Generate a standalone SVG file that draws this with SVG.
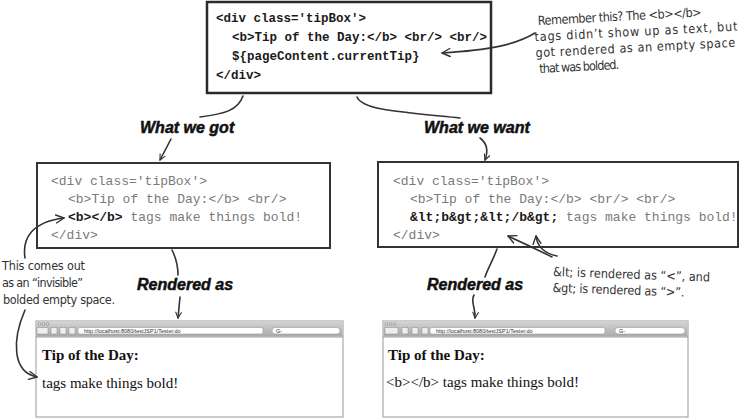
<svg xmlns="http://www.w3.org/2000/svg" width="741" height="419" viewBox="0 0 741 419">
<defs>
<style>
.box{fill:#fff;stroke:#333;stroke-width:2}
.topbox{fill:#fff;stroke:#2a2a2a;stroke-width:2.5}
.codeb{font-family:"Liberation Mono","Courier New",monospace;font-weight:bold;font-size:12.5px;fill:#1a1a1a}
.code{font-family:"Liberation Mono","Courier New",monospace;font-size:13px;fill:#7a7a7a}
.cb{font-weight:bold;fill:#1a1a1a}
.head{font-family:"Liberation Sans",Arial,sans-serif;font-weight:bold;font-style:italic;font-size:16px;fill:#111;stroke:#111;stroke-width:0.5}
.hand{font-family:"Liberation Sans Narrow","DejaVu Sans Condensed","Open Sans",sans-serif;font-size:12.5px;fill:#333}
.conn{fill:none;stroke:#333;stroke-width:1.6;stroke-linecap:round}
.serif{font-family:"Liberation Serif","Times New Roman",serif;font-size:15px;fill:#111}
.frame{fill:#fff;stroke:#999;stroke-width:1}
.bar{fill:url(#barg)}
.btn{fill:#eee;stroke:#888;stroke-width:0.5}
.field{fill:#fff;stroke:#999;stroke-width:0.6}
.url{font-family:"Liberation Sans Narrow","Liberation Sans",sans-serif;font-size:5.5px;fill:#333}
.dot{fill:#ddd;stroke:#777;stroke-width:0.5}
</style>
<linearGradient id="barg" x1="0" y1="0" x2="0" y2="1">
<stop offset="0" stop-color="#d4d4d4"/>
<stop offset="1" stop-color="#a9a9a9"/>
</linearGradient>
<marker id="ah" viewBox="0 0 10 10" refX="9" refY="5" markerWidth="7" markerHeight="7" orient="auto" markerUnits="userSpaceOnUse">
<path d="M1,1 L9,5 L1,9" fill="none" stroke="#333" stroke-width="1.6" stroke-linecap="round" stroke-linejoin="round"/>
</marker>
<marker id="ah2" viewBox="0 0 10 10" refX="9" refY="5" markerWidth="10" markerHeight="10" orient="auto" markerUnits="userSpaceOnUse">
<path d="M1,1 L9,5 L1,9" fill="none" stroke="#333" stroke-width="1.4" stroke-linecap="round" stroke-linejoin="round"/>
</marker>
</defs>
<rect width="741" height="419" fill="#fff"/>

<g id="top-code">
<rect class="topbox" x="207" y="2" width="284" height="91"/>
<text class="codeb" x="216" y="22">&lt;div class='tipBox'&gt;</text>
<text class="codeb" x="232" y="41">&lt;b&gt;Tip of the Day:&lt;/b&gt; &lt;br/&gt; &lt;br/&gt;</text>
<text class="codeb" x="232" y="60">${pageContent.currentTip}</text>
<text class="codeb" x="216" y="79">&lt;/div&gt;</text>
</g>

<g id="note-remember" transform="rotate(-3 538 25)">
<text class="hand" x="538" y="25" textLength="164">Remember this? The &lt;b&gt;&lt;/b&gt;</text>
<text class="hand" x="534" y="41" textLength="203">tags didn’t show up as text, but</text>
<text class="hand" x="534" y="57" textLength="200">got rendered as an empty space</text>
<text class="hand" x="537" y="73" textLength="80">that was bolded.</text>
</g>

<g id="label-got"><text class="head" x="140" y="133">What we got</text></g>
<g id="label-want"><text class="head" x="424" y="133">What we want</text></g>

<g id="got-code">
<rect class="box" x="37" y="163" width="293" height="85"/>
<text class="code" x="51" y="185">&lt;div class='tipBox'&gt;</text>
<text class="code" x="68" y="203">&lt;b&gt;Tip of the Day:&lt;/b&gt; &lt;br/&gt;</text>
<text class="code" x="68" y="221"><tspan class="cb">&lt;b&gt;&lt;/b&gt;</tspan> tags make things bold!</text>
<text class="code" x="51" y="239">&lt;/div&gt;</text>
</g>

<g id="want-code">
<rect class="box" x="378" y="162" width="360" height="85"/>
<text class="code" x="393" y="185">&lt;div class='tipBox'&gt;</text>
<text class="code" x="410" y="203">&lt;b&gt;Tip of the Day:&lt;/b&gt; &lt;br/&gt; &lt;br/&gt;</text>
<text class="code" x="410" y="221"><tspan class="cb">&amp;lt;b&amp;gt;&amp;lt;/b&amp;gt;</tspan> tags make things bold!</text>
<text class="code" x="393" y="239">&lt;/div&gt;</text>
</g>

<g id="note-invisible">
<text class="hand" x="2" y="270" textLength="83">This comes out</text>
<text class="hand" x="2" y="287" textLength="81">as an “invisible”</text>
<text class="hand" x="3" y="304" textLength="112">bolded empty space.</text>
</g>

<g id="note-entities" transform="rotate(2 553 276)">
<text class="hand" x="553" y="276" textLength="157">&amp;lt; is rendered as “&lt;”, and</text>
<text class="hand" x="553" y="292" textLength="132">&amp;gt; is rendered as “&gt;”.</text>
</g>

<g id="label-rendered-left"><text class="head" x="137" y="290">Rendered as</text></g>
<g id="label-rendered-right"><text class="head" x="427" y="290">Rendered as</text></g>

<g id="browser-got">
<rect class="frame" x="36" y="321" width="307" height="96"/>
<rect class="bar" x="36.5" y="321.5" width="306" height="15"/>
<circle class="dot" cx="39.5" cy="324" r="1.4"/><circle class="dot" cx="43.5" cy="324" r="1.4"/><circle class="dot" cx="47.5" cy="324" r="1.4"/>
<rect class="btn" x="37" y="327.5" width="11" height="6.5"/>
<rect class="btn" x="51" y="327.5" width="6" height="6.5"/>
<rect class="btn" x="60" y="327.5" width="6" height="6.5"/>
<rect class="btn" x="69" y="327.5" width="6" height="6.5"/>
<rect class="field" x="78" y="327.5" width="185" height="6.5" rx="2"/>
<text class="url" x="84" y="333">http://localhost:8080/testJSP1/Tester.do</text>
<rect class="field" x="272" y="327.5" width="68" height="6.5" rx="3.2"/>
<text class="url" x="276" y="333">G-</text>
<line x1="36" y1="337" x2="343" y2="337" stroke="#888" stroke-width="0.8"/>
<text class="serif" x="42" y="360" font-weight="bold">Tip of the Day:</text>
<text class="serif" x="42" y="388">tags make things bold!</text>
</g>

<g id="browser-want">
<rect class="frame" x="383" y="321" width="305" height="96"/>
<rect class="bar" x="383.5" y="321.5" width="304" height="15"/>
<circle class="dot" cx="386.5" cy="324" r="1.4"/><circle class="dot" cx="390.5" cy="324" r="1.4"/><circle class="dot" cx="394.5" cy="324" r="1.4"/>
<rect class="btn" x="385" y="327.5" width="13" height="6.5"/>
<rect class="btn" x="402" y="327.5" width="6" height="6.5"/>
<rect class="btn" x="412" y="327.5" width="6" height="6.5"/>
<rect class="btn" x="422" y="327.5" width="6" height="6.5"/>
<rect class="field" x="430" y="327.5" width="175" height="6.5" rx="2"/>
<text class="url" x="436" y="333">http://localhost:8080/testJSP1/Tester.do</text>
<rect class="field" x="615" y="327.5" width="70" height="6.5" rx="3.2"/>
<text class="url" x="619" y="333">G-</text>
<line x1="383" y1="337" x2="688" y2="337" stroke="#888" stroke-width="0.8"/>
<text class="serif" x="388" y="360" font-weight="bold">Tip of the Day:</text>
<text class="serif" x="386" y="387">&lt;b&gt;&lt;/b&gt; tags make things bold!</text>
</g>

<g id="connectors">
<path class="conn" d="M243 96 C238 110 225 114 200 117"/>
<path class="conn" d="M171 139 L160 160" marker-end="url(#ah)"/>
<path class="conn" d="M357 97 C362 110 400 112 460 118"/>
<path class="conn" d="M480 138 C488 144 488 152 485 160" marker-end="url(#ah)"/>
<path class="conn" d="M172 250 C176 258 178 266 178 275"/>
<path class="conn" d="M180 297 L178 318" marker-end="url(#ah)"/>
<path class="conn" d="M497 249 C493 260 488 268 485 277"/>
<path class="conn" d="M474 295 C470 302 476 308 475 318" marker-end="url(#ah)"/>
<path class="conn" d="M535 33 C515 45 490 50 442 53" marker-end="url(#ah2)"/>
<path class="conn" d="M25 258 C22 238 32 222 64 218" marker-end="url(#ah2)"/>
<path class="conn" d="M25 310 C12 340 12 372 37 377" marker-end="url(#ah2)"/>
<path class="conn" d="M552 257 Q530 246 508 236" marker-end="url(#ah2)"/>
<path class="conn" d="M557 256 Q538 252 536 236" marker-end="url(#ah2)"/>
</g>
</svg>
